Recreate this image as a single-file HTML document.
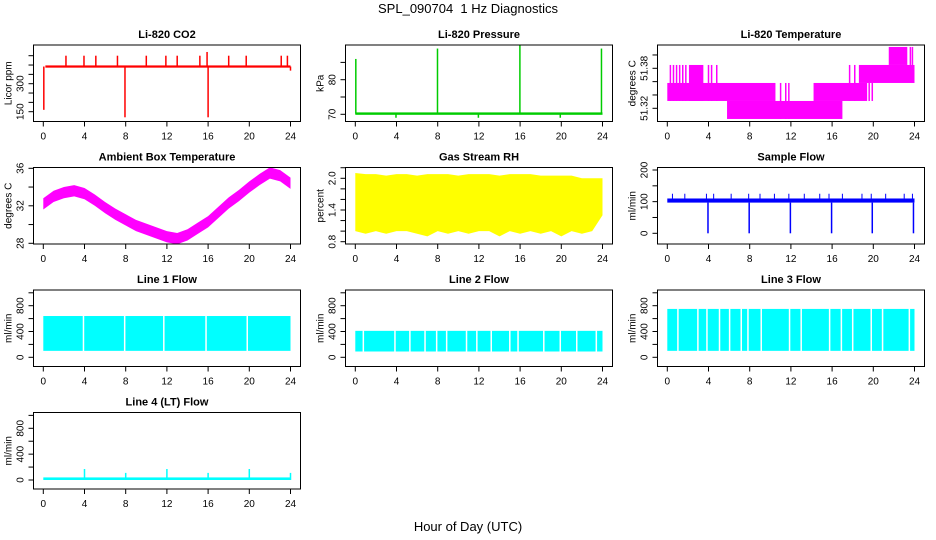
<!DOCTYPE html>
<html><head><meta charset="utf-8">
<style>
html,body{margin:0;padding:0;background:#fff;}
svg{display:block;font-family:"Liberation Sans",Arial,sans-serif;}
</style></head>
<body>
<svg id="chart" width="936" height="540" viewBox="0 0 936 540">
<text x="468" y="13" text-anchor="middle" font-size="13">SPL_090704&#160; 1 Hz Diagnostics</text>
<text x="468" y="531" text-anchor="middle" font-size="13">Hour of Day (UTC)</text>
</svg>
<script>
// ---- data ----
var xTicks = [0,4,8,12,16,20,24];
var co2Base = 392;
var co2Spikes = [[0.05,160],[2.2,450],[3.95,450],[5.1,450],[7.2,450],[7.93,120],[10.0,450],[11.9,450],[13.0,450],[15.2,450],[15.9,470],[16.0,120],[18.0,450],[19.7,450],[23.1,450],[23.7,450],[24.0,370]];
var presBase = 70.2;
var presSpikes = [[0.05,86],[7.98,89],[15.98,90],[23.9,89],[3.95,69],[11.95,69],[19.9,69]];
var tempSpans = [[0,10.5,51.331,51.358],[2.1,3.5,51.331,51.385],[5.8,17.0,51.304,51.331],[14.2,19.4,51.331,51.358],[18.6,24,51.358,51.385],[21.5,23.3,51.385,51.412]];
var tempSpikes = [[0.3,51.331,51.385],[0.6,51.331,51.385],[0.9,51.331,51.385],[1.2,51.331,51.385],[1.5,51.331,51.385],[1.8,51.331,51.385],[4.0,51.331,51.385],[4.3,51.331,51.385],[4.8,51.331,51.385],[11.0,51.304,51.358],[11.5,51.304,51.358],[11.8,51.304,51.358],[17.7,51.331,51.385],[18.2,51.331,51.385],[19.6,51.331,51.358],[19.9,51.331,51.358],[23.6,51.385,51.412],[23.8,51.385,51.412]];
var ambHours = [0,1,2,3,4,5,6,7,8,9,10,11,12,13,14,15,16,17,18,19,20,21,22,23,24];
var ambMid = [32.2,33.0,33.4,33.6,33.3,32.6,31.8,31.1,30.5,29.9,29.5,29.1,28.7,28.5,28.9,29.6,30.3,31.3,32.3,33.1,34.0,34.8,35.5,35.2,34.4];
var rhHi = [2.1,2.08,2.08,2.05,2.08,2.08,2.05,2.08,2.08,2.08,2.05,2.08,2.08,2.08,2.05,2.08,2.08,2.08,2.05,2.05,2.05,2.05,2.0,2.0,2.0];
var rhLo = [1.0,0.95,1.0,0.95,1.0,1.0,0.95,0.9,1.0,0.95,1.0,0.95,1.0,1.0,0.9,1.0,0.95,1.0,0.95,1.0,0.9,1.0,0.95,1.0,1.3];
var sampLo = 97, sampHi = 110;
var sampDrops = [3.95,7.95,11.95,15.95,19.9,23.9];
var sampSpikes = [0.5,1.7,3.8,4.5,6.2,7.9,9.0,10.4,11.8,13.3,14.8,15.7,17.0,18.9,19.8,21.2,23.0,23.8];
var line1Range = [100,640];
var line1Gaps = [3.9,7.9,11.7,15.8,19.8];
var line2Range = [90,410];
var line2Gaps = [0.78,3.85,5.3,6.77,7.9,8.87,10.8,11.8,13.2,15.0,15.8,18.3,19.9,21.5,23.4];
var line3Range = [100,750];
var line3Gaps = [1.03,2.97,3.85,5.07,6.05,7.18,7.83,9.12,11.87,13.0,15.76,16.9,18.0,19.8,20.9,23.5];
var line4Base = 40;
var line4Spikes = [[4.0,170],[8.0,110],[12.0,170],[16.0,110],[20.0,170],[24.0,110]];

// ---- layout helpers ----
var NS = "http://www.w3.org/2000/svg";
var svg = document.getElementById('chart');
function mk(tag, attrs, parent){ var e=document.createElementNS(NS,tag); for(var k in attrs) e.setAttribute(k,attrs[k]); (parent||svg).appendChild(e); return e; }

function panel(c, r, title, ylab, v0, p0, v1, p1, yTicks, yLabels, name){
  var tops=[45,167.5,290,412.5];
  var left=33.5+312*c, right=300.5+312*c, top=tops[r], bottom=top+76.5;
  var g = mk('g',{});
  
  
  var P = {g:g,left:left,right:right,top:top,bottom:bottom,
    x:function(h){return 43.3+312*c+h*10.3;},
    y:function(v){return top+p0+(v-v0)*(p1-p0)/(v1-v0);}};
  var clip = mk('clipPath',{id:'clip'+name},g);
  mk('rect',{x:left,y:top,width:right-left,height:bottom-top},clip);
  P.data = mk('g',{'clip-path':'url(#clip'+name+')'},g);
  var t = mk('text',{x:(left+right)/2,y:top-7,'text-anchor':'middle','font-size':11,'font-weight':'bold'},g);
  t.textContent = title;
  
  
  xTicks.forEach(function(h){
    var xx=P.x(h);
    mk('line',{x1:xx,y1:bottom,x2:xx,y2:bottom+5,stroke:'#000','stroke-width':1},g);
    var tl=mk('text',{x:xx,y:bottom+18,'text-anchor':'middle','font-size':10},g);
    tl.textContent=h;
    
    
  });
  yTicks.forEach(function(v,i){
    var yy=P.y(v);
    mk('line',{x1:left,y1:yy,x2:left-5,y2:yy,stroke:'#000','stroke-width':1},g);
    if(yLabels[i]){
      var tl=mk('text',{x:left-10,y:yy,'text-anchor':'middle','font-size':10,transform:'rotate(-90 '+(left-10)+' '+yy+')'},g);
      tl.textContent=yLabels[i];
      
      
    }
  });
  var yl=mk('text',{x:left-22,y:(top+bottom)/2,'text-anchor':'middle','font-size':10,transform:'rotate(-90 '+(left-22)+' '+((top+bottom)/2)+')'},g);
  yl.textContent=ylab;
  
  
  var box=mk('rect',{x:left,y:top,width:right-left,height:bottom-top,fill:'none',stroke:'#000','stroke-width':1},g);
  
  
  return P;
}
function vline(P,h,a,b,col,w){ var l=mk('line',{x1:P.x(h),x2:P.x(h),y1:P.y(a),y2:P.y(b),stroke:col,'stroke-width':w||1},P.data); return l; }
function band(P,h0,h1,a,b,col){ var y1=P.y(b),y2=P.y(a); var rr=mk('rect',{x:P.x(h0),y:Math.min(y1,y2),width:P.x(h1)-P.x(h0),height:Math.abs(y2-y1),fill:col},P.data); return rr; }

// CO2
var p = panel(0,0,'Li-820 CO2','Licor ppm',150,66.7,450,10.7,[150,200,250,300,350,400,450],['150','','','300','','',''],'co2');
band(p,0.2,24,co2Base-6,co2Base+6,'#f00');
co2Spikes.forEach(function(s){ var l=vline(p,s[0],co2Base,s[1],'#f00',1.5);   });

// Pressure
p = panel(1,0,'Li-820 Pressure','kPa',70,69.3,80,34.7,[70,75,80,85],['70','','80',''],'pressure');
band(p,0,24,presBase-0.35,presBase+0.35,'#0c0');
presSpikes.forEach(function(s){ var l=vline(p,s[0],presBase,s[1],'#0c0',1.5);   });

// Temperature
p = panel(2,0,'Li-820 Temperature','degrees C',51.32,63.3,51.38,23.3,[51.32,51.34,51.36,51.38,51.40],['51.32','','','51.38',''],'li820-temp');
tempSpans.forEach(function(s){ var r=band(p,s[0],s[1],s[2],s[3],'#f0f');   });
tempSpikes.forEach(function(s){ vline(p,s[0],s[1],s[2],'#f0f',1.5); });

// Ambient
p = panel(0,1,'Ambient Box Temperature','degrees C',28,75.8,36,0.8,[28,30,32,34,36],['28','','32','','36'],'ambient');
(function(){
  var up=ambHours.map(function(h,i){return p.x(h)+','+p.y(ambMid[i]+0.6);});
  var dn=ambHours.map(function(h,i){return p.x(h)+','+p.y(ambMid[i]-0.6);}).reverse();
  var pg=mk('polygon',{points:up.concat(dn).join(' '),fill:'#f0f'},p.data);
  
  
})();

// RH
p = panel(1,1,'Gas Stream RH','percent',0.8,74.2,2.0,10.8,[0.8,1.0,1.2,1.4,1.6,1.8,2.0,2.2],['0.8','','','1.4','','','2.0',''],'rh');
(function(){
  var up=ambHours.map(function(h,i){return p.x(h)+','+p.y(rhHi[i]);});
  var dn=ambHours.map(function(h,i){return p.x(h)+','+p.y(rhLo[i]);}).reverse();
  var pg=mk('polygon',{points:up.concat(dn).join(' '),fill:'#ff0'},p.data);
  
  
})();

// Sample flow
p = panel(2,1,'Sample Flow','ml/min',0,65.8,200,2.5,[0,50,100,150,200],['0','','100','','200'],'sample-flow');
band(p,0,24,sampLo,sampHi,'#00f');
sampSpikes.forEach(function(h){ vline(p,h,sampHi,125,'#00f',1); });
sampDrops.forEach(function(h){ var l=vline(p,h,sampLo,0,'#00f',1.5);   });

// Line flows
function flowPanel(c,r,title,range,gaps,name){
  var q = panel(c,r,title,'ml/min',0,67.3,800,15.7,[0,200,400,600,800,1000],['0','','400','','800',''],name);
  var b=band(q,0,24,range[0],range[1],'#0ff');
  
  
  gaps.forEach(function(h){ vline(q,h,range[0]-5,range[1]+5,'#fff',1.5); });
  return q;
}
flowPanel(0,2,'Line 1 Flow',line1Range,line1Gaps,'line1-flow');
flowPanel(1,2,'Line 2 Flow',line2Range,line2Gaps,'line2-flow');
flowPanel(2,2,'Line 3 Flow',line3Range,line3Gaps,'line3-flow');
p = panel(0,3,'Line 4 (LT) Flow','ml/min',0,67.5,800,15.8,[0,200,400,600,800,1000],['0','','400','','800',''],'line4-flow');
band(p,0,24,0,line4Base,'#0ff');
line4Spikes.forEach(function(s){ var l=vline(p,s[0],0,s[1],'#0ff',1.5);   });
</script>
</body></html>
